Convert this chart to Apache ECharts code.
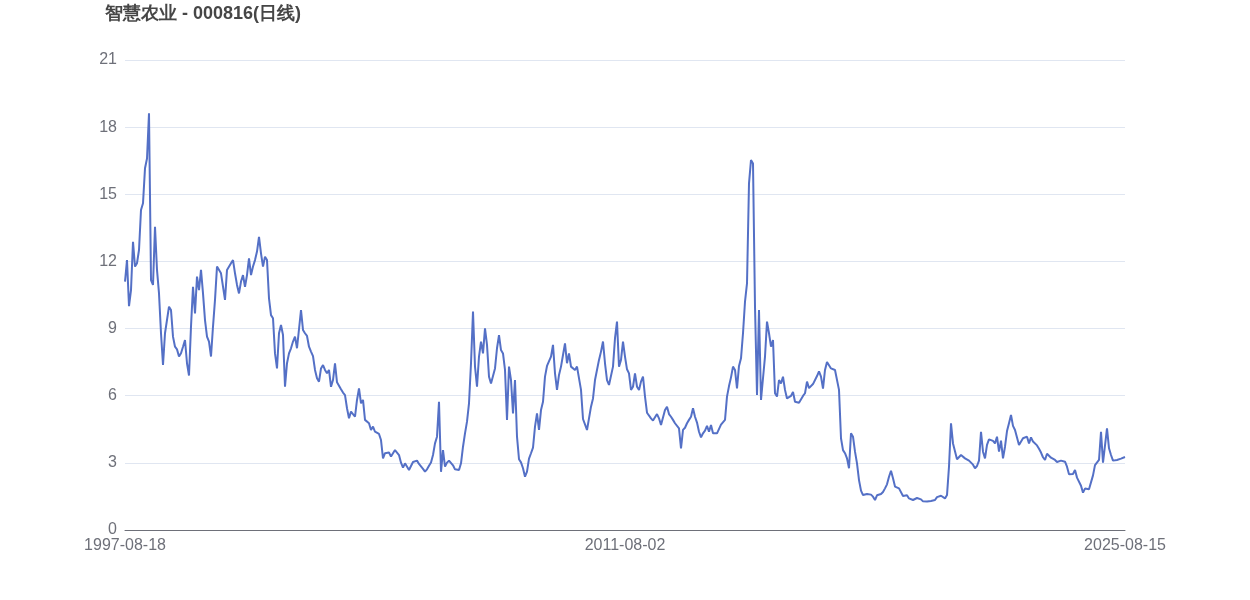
<!DOCTYPE html>
<html>
<head>
<meta charset="utf-8">
<script src="https://cdn.jsdelivr.net/npm/echarts@6/dist/echarts.min.js"></script>
<style>html,body{margin:0;padding:0;background:#fff}#c{width:1250px;height:600px}</style>
</head>
<body>
<div id="c"></div>
<script>
const title = '智慧农业 - 000816(日线)';
const anchorDates = ['1997-08-18', '2011-08-02', '2025-08-15'];
const yTicks = [0, 3, 6, 9, 12, 15, 18, 21];

const seg1 = [11.10,12.06,10.0,10.72,12.88,11.77,11.92,12.51,14.3,14.6,16.16,16.6,18.62,11.17,10.95,13.55,11.62,10.57,8.79,7.37,8.79,8.71,9.98,9.83,8.64,8.19,8.07,7.75,7.9,8.19,8.49,7.45,6.9,9.09,10.87,9.68,11.32,10.72,11.62,10.57,9.38,8.64,8.42,7.75,9.09,10.28,11.77,11.77,11.47,10.87,10.28,11.62,11.54,11.92,12.06,11.47,10.95,10.57,11.1,11.39,10.87,11.39,12.14];
const seg2 = [11.39,11.77,12.06,12.44,13.1,12.36,11.77,12.21,12.06,10.35,9.6,9.46,7.89,7.22,8.79,9.16,8.71,6.4,7.45,7.89,8.12,8.42,8.64,8.12,8.19,9.83,8.94,8.79,8.67,8.19,7.97,7.77,7.15,6.78,6.63,7.22,7.37,7.15,7.0,7.15,6.4,6.7,7.45,6.6,6.45,6.29,6.14,6.03,5.44,4.99,5.29,5.33,5.06,5.81,6.33,5.66,5.81,4.92,4.95,4.77,4.47,4.62];
const seg3 = [4.39,4.44,4.29,4.02,3.2,3.43,3.38,3.46,3.28,3.2,3.57,3.6,3.35,3.01,2.79,2.98,3.01,2.68,2.86,3.04,2.98,3.1,2.95,2.9,2.73,2.61,2.71,2.87,3.02,3.35,3.87,4.17,5.73,2.6,3.57,2.83,3.01,3.1,3.13,2.89,2.71,2.74,2.68,2.98,3.72,4.32,4.84,5.66,7.45,9.76,7.3,6.4,7.75,8.42,7.89,9.01,8.27,6.85,6.55,6.51,7.22,8.12,8.71];
const seg4 = [8.04,7.89,7.15,4.92,7.3,6.7,5.21,6.7,4.17,3.16,3.02,2.76,2.38,2.61,3.19,3.43,3.68,4.62,5.21,4.47,5.36,5.73,6.85,7.33,7.33,7.75,8.27,7.0,6.26,6.93,7.3,7.82,8.34,7.45,7.89,7.3,7.3,7.15,7.3,7.25,6.26,4.96,4.92,4.47,4.99,5.51,5.88,6.7,6.63,7.6,7.97,8.42,7.45,6.7,6.48,6.43,7.3,8.57,9.31,7.3,7.6,8.42];
const seg5 = [7.75,7.18,7.0,6.26,6.4,7.0,6.4,6.26,6.63,6.85,5.96,5.24,5.18,4.99,4.89,4.92,5.18,4.99,4.69,4.74,5.36,5.51,5.18,5.06,4.92,4.77,4.74,4.54,3.65,4.47,4.57,4.77,4.92,5.06,5.44,5.06,4.8,4.39,4.14,4.32,4.44,4.65,4.39,4.69,4.32,4.32,4.32,4.39,4.71,4.77,4.92,5.96,6.43,6.82,7.3,7.15,6.33,7.33,7.67,8.79,10.2,11.02,15.49];
const seg6 = [16.53,16.38,9.98,6.03,9.83,5.81,6.78,7.75,9.31,8.79,8.19,8.49,6.11,5.96,6.7,6.55,6.85,6.26,5.88,5.81,5.99,6.17,5.73,5.79,5.69,5.72,5.99,6.11,6.63,6.34,6.34,6.52,6.55,6.88,7.09,6.85,6.32,7.15,7.51,7.48,7.22,7.24,7.15,7.15,6.26,4.1,3.57,3.43,3.2,2.76,4.32,4.17,3.5,2.98,2.23,1.76,1.56,1.56,1.61,1.64,1.58,1.49];
const seg7 = [1.34,1.55,1.52,1.61,1.7,1.86,2.04,2.38,2.65,2.31,1.94,1.86,1.86,1.82,1.52,1.53,1.55,1.41,1.4,1.34,1.39,1.43,1.46,1.37,1.28,1.34,1.27,1.34,1.3,1.33,1.34,1.47,1.43,1.53,1.5,1.41,1.56,2.83,4.77,3.87,3.87,3.16,3.2,3.35,3.31,3.2,3.13,3.1,3.01,2.92,2.76,2.86,3.1,4.39,3.5,3.2,3.8,4.05,4.07,3.98,3.87,4.17,3.5];
const seg8 = [3.99,3.2,3.72,4.42,4.77,5.14,4.65,4.47,4.13,3.8,3.72,4.1,4.1,4.17,3.87,4.14,3.95,3.87,3.78,3.63,3.46,3.25,3.13,3.41,3.32,3.23,3.2,3.13,3.04,3.01,3.1,3.13,3.05,2.83,2.49,2.53,2.5,2.68,2.34,2.38,1.98,1.67,1.85,1.82,1.82,1.88,2.44,2.9,2.98,3.13,4.39,3.01,3.05,4.54,3.65,3.35,3.1,3.13,3.13,3.16,3.19,3.23,3.26];

const values = [].concat(seg1, seg2, seg3, seg4, seg5, seg6, seg7, seg8);

// category labels: anchors at first, middle, last point; others interpolated between anchors
function buildDates(n) {
  const t = anchorDates.map(d => Date.parse(d + 'T00:00:00Z'));
  const mid = (n - 1) / 2;
  const out = [];
  for (let i = 0; i < n; i++) {
    let ms;
    if (i <= mid) ms = t[0] + (t[1] - t[0]) * (i / mid);
    else ms = t[1] + (t[2] - t[1]) * ((i - mid) / mid);
    out.push(new Date(ms).toISOString().slice(0, 10));
  }
  out[0] = anchorDates[0]; out[Math.round(mid)] = anchorDates[1]; out[n - 1] = anchorDates[2];
  return out;
}
const dates = buildDates(values.length);
const midIdx = Math.round((values.length - 1) / 2);

const chart = echarts.init(document.getElementById('c'), null, {renderer: 'canvas'});
chart.setOption({
  animation: false,
  title: {
    text: title,
    left: 100, top: 0,
    textStyle: {fontSize: 18, fontWeight: 'bold', color: '#464646'}
  },
  grid: {left: 125, right: 125, top: 60, bottom: 70, containLabel: false},
  xAxis: {
    type: 'category',
    data: dates,
    boundaryGap: false,
    axisTick: {show: false},
    axisLine: {lineStyle: {color: '#6e7079'}},
    axisLabel: {
      fontSize: 16, color: '#6e7079', margin: 8,
      interval: function (idx) { return idx === 0 || idx === midIdx || idx === values.length - 1; },
      showMinLabel: true, showMaxLabel: true
    },
    splitLine: {show: false}
  },
  yAxis: {
    type: 'value',
    min: yTicks[0], max: yTicks[yTicks.length - 1], interval: 3,
    axisLine: {show: false},
    axisTick: {show: false},
    axisLabel: {fontSize: 16, color: '#6e7079', margin: 8},
    splitLine: {lineStyle: {color: '#e0e6f1'}}
  },
  series: [{
    type: 'line',
    data: values,
    showSymbol: false,
    lineStyle: {width: 2, color: '#5470c6'},
    itemStyle: {color: '#5470c6'}
  }]
});
</script>
</body>
</html>
